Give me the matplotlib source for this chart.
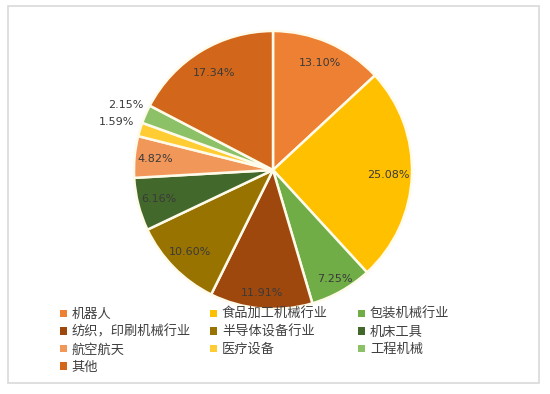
import matplotlib
matplotlib.use("Agg")
import matplotlib.pyplot as plt
import numpy as np
from matplotlib.patches import Patch, Rectangle

plt.rcParams['font.family'] = ['Noto Sans CJK SC', 'DejaVu Sans']

categories = ['机器人', '食品加工机械行业', '包装机械行业', '纺织，印刷机械行业', '半导体设备行业',
              '机床工具', '航空航天', '医疗设备', '工程机械', '其他']
values = [13.10, 25.08, 7.25, 11.91, 10.60, 6.16, 4.82, 1.59, 2.15, 17.34]
labels = ['13.10%', '25.08%', '7.25%', '11.91%', '10.60%', '6.16%', '4.82%', '1.59%', '2.15%', '17.34%']
colors = ['#EE8033', '#FFC000', '#70AD47', '#9E480E', '#997300', '#43682B',
          '#F1975A', '#FFCD33', '#8CC168', '#D2661A']
label_r = [0.84, 0.83, 0.90, 0.89, 0.84, 0.85, 0.85, 1.18, 1.16, 0.82]

W, H = 550, 394
fig = plt.figure(figsize=(W / 100, H / 100), dpi=100)
fig.patch.set_facecolor('white')

# outer border
fig.add_artist(Rectangle((8 / W, 1 - 383 / H), (539 - 8) / W, (383 - 6) / H,
                         transform=fig.transFigure, fill=False, edgecolor='#D9D9D9', linewidth=1.2))

cx, cy, R = 273, 170, 139
ax = fig.add_axes([(cx - R) / W, (H - cy - R) / H, 2 * R / W, 2 * R / H])
wedges, _ = ax.pie(values, colors=colors, startangle=90, counterclock=False,
                   wedgeprops=dict(edgecolor='#FFFBEA', linewidth=1.8))
ax.set_xlim(-1, 1)
ax.set_ylim(-1, 1)
ax.set_aspect('equal')
ax.axis('off')

for w, lab, r in zip(wedges, labels, label_r):
    ang = np.deg2rad((w.theta1 + w.theta2) / 2)
    ax.text(r * np.cos(ang), r * np.sin(ang), lab, ha='center', va='center',
            fontsize=8, color='#3A3A3A', family=['DejaVu Sans'])

# legend: three columns, row-wise order
col_x = [60, 210, 358]
for c in range(3):
    idx = list(range(c, len(categories), 3))
    handles = [Patch(facecolor=colors[i], edgecolor='none') for i in idx]
    fig.legend(handles, [categories[i] for i in idx], loc='upper left',
               bbox_to_anchor=(col_x[c] / W, 1 - 308 / H), frameon=False,
               fontsize=9.5, handlelength=0.5, handleheight=0.5, handletextpad=0.4,
               labelspacing=0.34, borderpad=0, borderaxespad=0, labelcolor='#404040')

fig.savefig('out.png', dpi=100, facecolor='white')
